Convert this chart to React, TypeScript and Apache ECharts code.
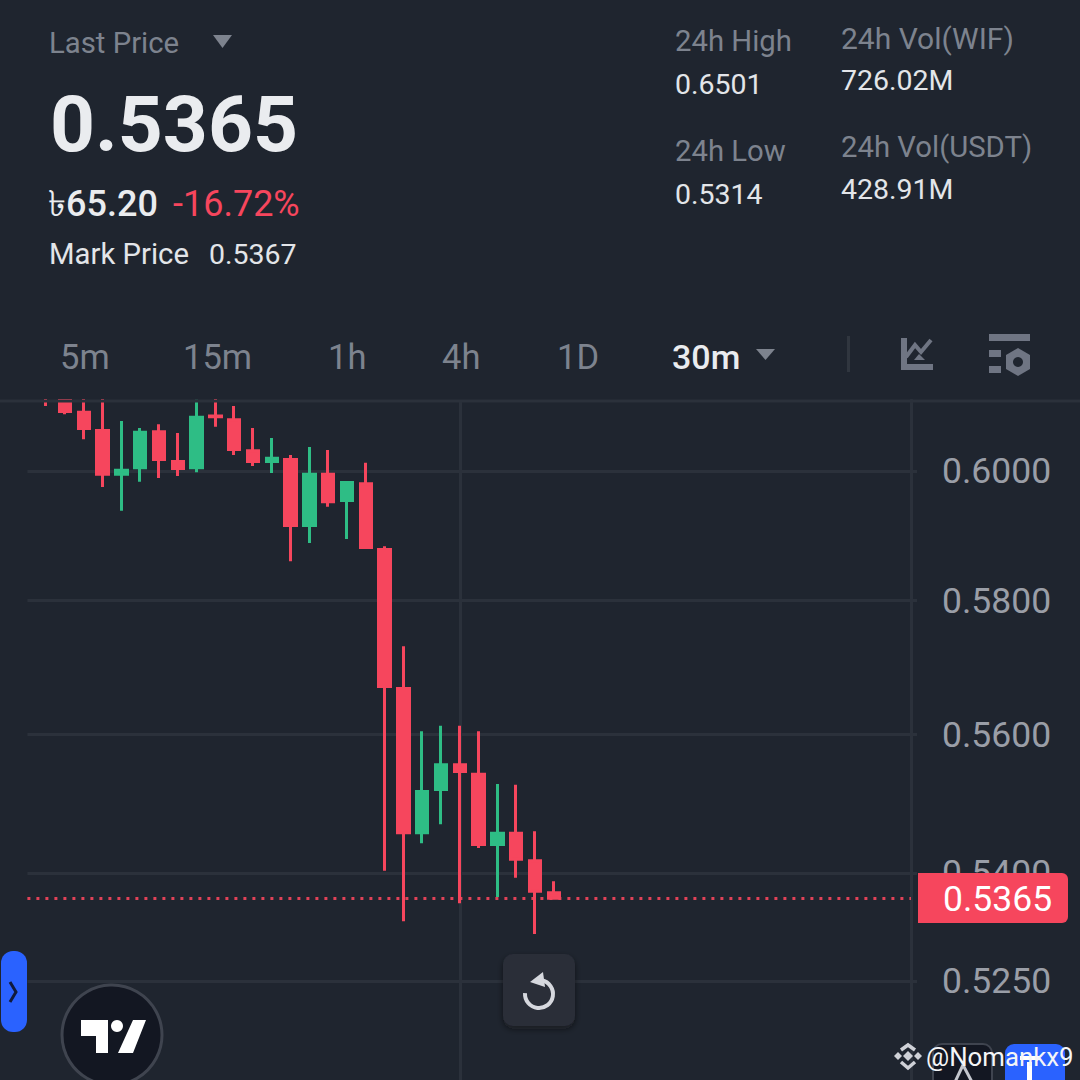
import React, { useEffect, useRef } from "react";
import * as echarts from "echarts";

const opens = [0.6135,0.6113,0.6093,0.6064,0.5995,0.6005,0.6062,0.6015,0.6005,0.6087,0.6081,0.6032,0.6015,0.6018,0.5915,0.5995,0.5954,0.5980,0.5878,0.5668,0.5458,0.5520,0.5556,0.5542,0.5441,0.5457,0.5418,0.5373];
const closes = [0.6122,0.6094,0.6067,0.5995,0.6001,0.6061,0.6018,0.6004,0.6085,0.6086,0.6034,0.6015,0.6020,0.5915,0.5995,0.5952,0.5982,0.5881,0.5671,0.5458,0.5517,0.5556,0.5546,0.5441,0.5457,0.5420,0.5375,0.5365];
const lows = [0.6103,0.6090,0.6050,0.5975,0.5938,0.5983,0.5989,0.5992,0.5998,0.6070,0.6025,0.6008,0.5997,0.5860,0.5888,0.5944,0.5894,0.5879,0.5404,0.5333,0.5443,0.5470,0.5358,0.5436,0.5367,0.5394,0.5315,0.5365];
const highs = [0.6150,0.6125,0.6130,0.6125,0.6079,0.6068,0.6074,0.6060,0.6113,0.6120,0.6103,0.6068,0.6052,0.6025,0.6038,0.6033,0.5983,0.6013,0.5883,0.5731,0.5605,0.5613,0.5613,0.5605,0.5528,0.5527,0.5460,0.5389];
const priceTicks = [0.6, 0.58, 0.56, 0.54, 0.525];
const lastPrice = 0.5365;
const slotCount = 48;
const crossSlot = 23;

const RED = "#f6465d";
const GREEN = "#2ebd85";
const BG = "#1f252f";
const GRID = "#2b313b";
const MUTED = "#7d838e";
const SOFT = "#e3e5e9";
const ICON = "#6f7583";
const BLUE = "#2a62ff";
const FONT = "Roboto, 'Noto Sans', 'Noto Sans CJK SC', sans-serif";

// The price axis of the reference is logarithmic.
const toAxis = (p: number) => Math.log(p);
const fromAxis = (v: number) => Math.exp(v);
const AXIS_MAX = Math.log(0.6) + 71 / 3820;
const AXIS_MIN = Math.log(0.6) - 609 / 3820;

const label = (text: string, x: number, y: number, size: number, fill: string, weight: number | string = 400) => ({
  type: "text", x, y, z: 100,
  style: { text, fill, fontSize: size, fontFamily: FONT, fontWeight: weight, verticalAlign: "middle", align: "left" },
});
const poly = (points: number[][], fill: string) => ({ type: "polygon", z: 100, shape: { points }, style: { fill } });
const stroke = (points: number[][], color: string, lineWidth: number) => ({
  type: "polyline", z: 100, shape: { points }, style: { stroke: color, lineWidth, fill: "none" },
});
const box = (x: number, y: number, width: number, height: number, r: number | number[], fill: string, extra: object = {}) => ({
  type: "rect", z: 100, shape: { x, y, width, height, r }, style: { fill, ...extra },
});

export default function App() {
  const ref = useRef<HTMLDivElement>(null);
  useEffect(() => {
    document.body.style.margin = "0";
    const chart = echarts.init(ref.current!, null, { renderer: "svg" });
    const categories = Array.from({ length: slotCount }, (_, i) => String(i));
    const candles: any[] = [["-", "-", "-", "-"]].concat(
      opens.map((o, i) => [toAxis(o), toAxis(closes[i]), toAxis(lows[i]), toAxis(highs[i])]) as any
    );
    chart.setOption({
      animation: false,
      backgroundColor: BG,
      grid: { left: 27.4, right: 169, top: 400, bottom: 0, containLabel: false },
      xAxis: {
        type: "category", data: categories, boundaryGap: false,
        axisLine: { show: false }, axisTick: { show: false }, axisLabel: { show: false },
        splitLine: { show: true, interval: (i: number) => i === crossSlot, lineStyle: { color: GRID, width: 3 } },
      },
      yAxis: {
        type: "value", position: "right", min: AXIS_MIN, max: AXIS_MAX, scale: true,
        axisLine: { show: true, lineStyle: { color: GRID, width: 3 } },
        axisTick: { show: true, length: 6, lineStyle: { color: GRID, width: 3 }, customValues: priceTicks.map(toAxis) },
        axisLabel: {
          show: true, margin: 31, color: "#9a9ea7", fontSize: 35.5, fontFamily: FONT,
          customValues: priceTicks.map(toAxis),
          formatter: (v: number) => fromAxis(v).toFixed(4),
        },
        splitLine: { show: true, lineStyle: { color: GRID, width: 3 } },
      },
      series: [{
        type: "candlestick", data: candles, barWidth: 12, clip: true,
        itemStyle: { color: GREEN, color0: RED, borderColor: GREEN, borderColor0: RED, borderWidth: 3 },
        markLine: {
          silent: true, symbol: "none", animation: false, precision: 6, label: { show: false },
          lineStyle: { color: RED, width: 3, type: [3, 6], opacity: 0.9 },
          data: [{ yAxis: toAxis(lastPrice) }],
        },
      }],
      graphic: {
        elements: [
          // header band covers the candles that run above the top of the plot
          { type: "rect", z: 50, shape: { x: 0, y: 0, width: 1080, height: 399 }, style: { fill: BG } },
          { type: "line", z: 60, shape: { x1: 0, y1: 401, x2: 1080, y2: 401 }, style: { stroke: GRID, lineWidth: 3 } },

          label("Last Price", 49, 43, 29.3, MUTED),
          poly([[213, 35], [232, 35], [222.5, 48]], MUTED),
          label("0.5365", 50, 124, 78.5, "#eaecef", 700),
          label("৳65.20", 48, 204, 36, "#eaecef", 500),
          label("-16.72%", 173, 204, 36, RED, 400),
          label("Mark Price", 49, 254, 29.3, SOFT),
          label("0.5367", 209, 254, 28.5, SOFT),

          label("24h High", 675, 41, 29.3, MUTED),
          label("0.6501", 675, 84, 28.5, SOFT),
          label("24h Low", 675, 151, 29.3, MUTED),
          label("0.5314", 675, 194, 28.5, SOFT),
          label("24h Vol(WIF)", 841, 38, 30, MUTED),
          label("726.02M", 841, 80, 28.5, SOFT),
          label("24h Vol(USDT)", 841, 147, 29.3, MUTED),
          label("428.91M", 841, 189, 28.5, SOFT),

          label("5m", 60, 357, 34.5, MUTED),
          label("15m", 183, 357, 34.5, MUTED),
          label("1h", 328, 357, 34.5, MUTED),
          label("4h", 442, 357, 34.5, MUTED),
          label("1D", 557, 357, 34.5, MUTED),
          label("30m", 672, 357, 34, "#eaecef", 500),
          poly([[756, 349], [775, 349], [765.5, 360]], MUTED),
          box(847, 336, 3, 36, 0, "#30363f"),

          stroke([[904, 338], [904, 367], [933, 367]], ICON, 6),
          stroke([[906, 357], [915, 345], [921, 352], [931, 340]], ICON, 4),
          poly([[919, 354], [914, 360], [925, 360]], ICON),

          box(989, 334, 41, 7, 0, ICON),
          box(989, 350, 12, 7, 0, ICON),
          box(989, 366, 12, 7, 0, ICON),
          poly([[1018, 348], [1030, 355], [1030, 369], [1018, 376], [1006, 369], [1006, 355]], ICON),
          { type: "circle", z: 101, shape: { cx: 1018, cy: 362, r: 5 }, style: { fill: BG } },

          box(918, 873, 150, 50, [0, 6, 6, 0], RED),
          label(lastPrice.toFixed(4), 943, 899, 35.5, "#ffffff"),

          box(1, 951, 26, 81, 12, BLUE),
          stroke([[10, 982], [16, 992], [10, 1002]], "#101a3c", 3),

          { type: "circle", z: 100, shape: { cx: 112, cy: 1035, r: 50 }, style: { fill: "#131722", stroke: "#3f444f", lineWidth: 3 } },
          poly([[81, 1020], [108, 1020], [108, 1053], [96, 1053], [96, 1036], [81, 1036]], "#ffffff"),
          { type: "circle", z: 100, shape: { cx: 117, cy: 1026, r: 6 }, style: { fill: "#ffffff" } },
          poly([[133, 1020], [146, 1020], [133, 1053], [118, 1053]], "#ffffff"),

          box(503, 954, 72, 72, 10, "#292d38", { shadowBlur: 6, shadowColor: "rgba(15,18,25,0.55)", shadowOffsetY: 3 }),
          { type: "arc", z: 101, shape: { cx: 539, cy: 994, r: 14, startAngle: -Math.PI / 2.3, endAngle: Math.PI * 1.02, clockwise: true },
            style: { stroke: "#d6d8de", lineWidth: 4, fill: "none" } },
          poly([[543, 972], [530, 982], [545, 987]], "#d6d8de"),

          box(933, 1044, 59, 50, 9, "#131722", { stroke: "#3f444f", lineWidth: 2 }),
          stroke([[963, 1065], [955, 1082], [972, 1082], [963, 1065]], "#c3c6cd", 3),
          box(1005, 1044, 60, 50, 9, BLUE),
          box(1027, 1062, 5, 20, 0, "#ffffff"),
          box(1020, 1056, 20, 4, 0, "#ffffff"),

          poly([[908, 1051], [913, 1056], [908, 1061], [903, 1056]], "#cfd1d7"),
          poly([[898, 1052], [902, 1056], [898, 1060], [894, 1056]], "#cfd1d7"),
          poly([[918, 1052], [922, 1056], [918, 1060], [914, 1056]], "#cfd1d7"),
          stroke([[901, 1050], [908, 1045], [915, 1050]], "#cfd1d7", 3.5),
          stroke([[901, 1062], [908, 1068], [915, 1062]], "#cfd1d7", 3.5),
          label("@Nomankx9", 926, 1057, 25.8, "#f4f5f7"),
        ],
      },
    });
    return () => chart.dispose();
  }, []);
  return <div ref={ref} style={{ position: "absolute", left: 0, top: 0, width: 1080, height: 1080 }} />;
}
